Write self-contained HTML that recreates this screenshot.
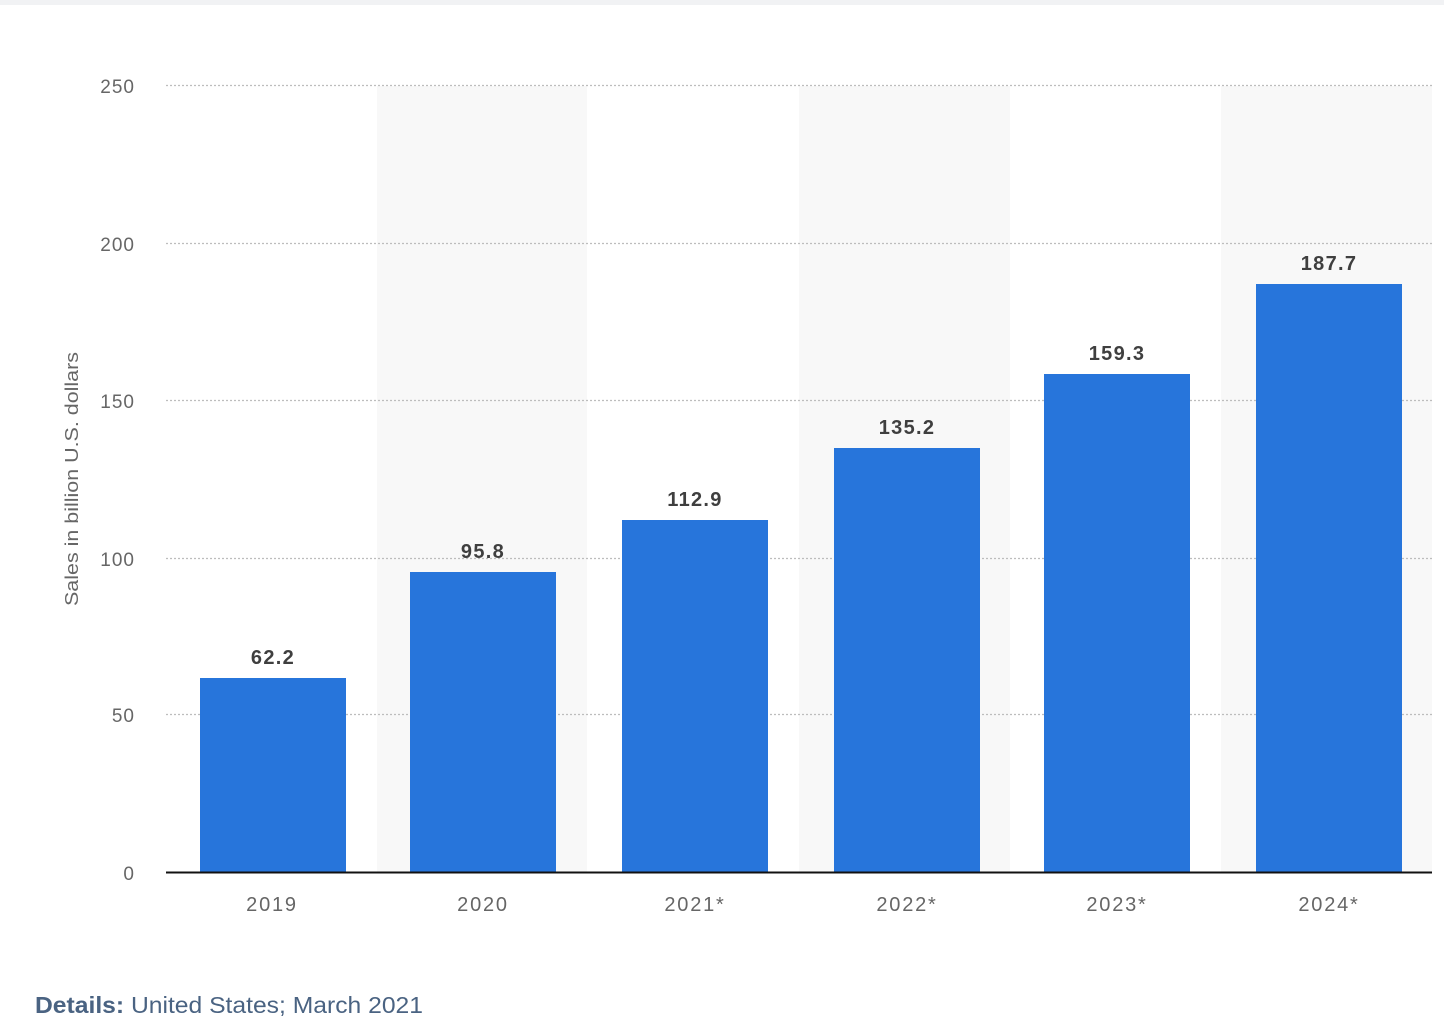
<!DOCTYPE html>
<html><head><meta charset="utf-8"><style>
html,body{margin:0;padding:0;background:#fff;}
body{width:1444px;height:1032px;overflow:hidden;position:relative;font-family:"Liberation Sans",sans-serif;}
</style></head><body>
<svg width="1444" height="1032" xmlns="http://www.w3.org/2000/svg" style="position:absolute;left:0;top:0">
<rect x="0" y="0" width="1444" height="5" fill="#f1f2f4"/>
<g fill="#f8f8f8">
<rect x="377" y="86" width="210" height="786"/>
<rect x="799" y="86" width="211" height="786"/>
<rect x="1221" y="86" width="211" height="786"/>
</g>
<g stroke="#bdbdbd" stroke-width="1.3" stroke-dasharray="2,2">
<line x1="166" x2="1432" y1="85.5" y2="85.5"/>
<line x1="166" x2="1432" y1="243.5" y2="243.5"/>
<line x1="166" x2="1432" y1="400.5" y2="400.5"/>
<line x1="166" x2="1432" y1="558.5" y2="558.5"/>
<line x1="166" x2="1432" y1="714.5" y2="714.5"/>
</g>
<g font-size="19" fill="#666" text-anchor="end" letter-spacing="1">
<text x="135" y="93">250</text>
<text x="135" y="251">200</text>
<text x="135" y="408">150</text>
<text x="135" y="566">100</text>
<text x="135" y="722">50</text>
<text x="135" y="880">0</text>
</g>
<text x="-606" y="78" transform="rotate(-90)" font-size="18" fill="#666" textLength="254" lengthAdjust="spacingAndGlyphs">Sales in billion U.S. dollars</text>
<g fill="#2775db">
<rect x="200" y="678" width="146" height="194"/>
<rect x="410" y="572" width="146" height="300"/>
<rect x="622" y="520" width="146" height="352"/>
<rect x="834" y="448" width="146" height="424"/>
<rect x="1044" y="374" width="146" height="498"/>
<rect x="1256" y="284" width="146" height="588"/>
</g>
<line x1="166" x2="1432" y1="872.5" y2="872.5" stroke="#111" stroke-width="2"/>
<g font-size="20" font-weight="bold" fill="#3f3f3f" text-anchor="middle" letter-spacing="1.3">
<text x="273" y="664">62.2</text>
<text x="483" y="558">95.8</text>
<text x="695" y="506">112.9</text>
<text x="907" y="434">135.2</text>
<text x="1117" y="360">159.3</text>
<text x="1329" y="270">187.7</text>
</g>
<g font-size="20" fill="#666" text-anchor="middle" letter-spacing="1.8">
<text x="272" y="911">2019</text>
<text x="483" y="911">2020</text>
<text x="695" y="911">2021*</text>
<text x="907" y="911">2022*</text>
<text x="1117" y="911">2023*</text>
<text x="1329" y="911">2024*</text>
</g>
<text x="35" y="1013" font-size="23" fill="#4a6382" textLength="388" lengthAdjust="spacingAndGlyphs"><tspan font-weight="bold">Details:</tspan> United States; March 2021</text>
</svg>
</body></html>
